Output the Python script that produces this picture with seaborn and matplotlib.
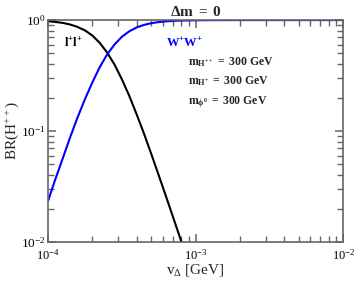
import matplotlib
matplotlib.use("Agg")
import matplotlib.pyplot as plt
from matplotlib.ticker import NullFormatter
import seaborn as sns
import pandas as pd

# values (v_Delta in GeV, branching ratios)
v_ll = [1.0e-4, 1.12e-4, 1.26e-4, 1.41e-4, 1.58e-4, 1.78e-4, 2.0e-4, 2.24e-4, 2.51e-4,
        2.82e-4, 3.16e-4, 3.55e-4, 3.98e-4, 4.47e-4, 5.01e-4, 5.62e-4, 6.31e-4, 7.08e-4,
        7.94e-4, 8.91e-4, 1.0e-3]
br_ll = [0.977, 0.963, 0.943, 0.913, 0.869, 0.807, 0.725, 0.624, 0.512,
         0.398, 0.294, 0.208, 0.142, 0.0948, 0.062, 0.040, 0.0256, 0.0163,
         0.0104, 0.0066, 0.00415]

v_ww = [1.0e-4, 1.12e-4, 1.26e-4, 1.41e-4, 1.58e-4, 1.78e-4, 2.0e-4, 2.24e-4, 2.51e-4,
        2.82e-4, 3.16e-4, 3.55e-4, 3.98e-4, 4.47e-4, 5.01e-4, 5.62e-4, 6.31e-4, 7.08e-4,
        7.94e-4, 8.91e-4, 1.0e-3, 1.26e-3, 1.58e-3, 2.0e-3, 3.16e-3, 5.0e-3, 1.0e-2]
br_ww = [0.0234, 0.0366, 0.0569, 0.0872, 0.131, 0.194, 0.275, 0.376, 0.488,
         0.602, 0.706, 0.792, 0.858, 0.905, 0.938, 0.960, 0.974, 0.984,
         0.990, 0.993, 0.996, 0.9983, 0.9993, 0.9997, 1.0, 1.0, 1.0]

x_major = [1e-4, 1e-3, 1e-2]
y_major = [1e-2, 1e-1, 1e0]

sns.set_style("ticks")
plt.rcParams["font.family"] = ["Liberation Serif", "DejaVu Serif"]
plt.rcParams["mathtext.fontset"] = "custom"
plt.rcParams["mathtext.rm"] = "Liberation Serif"
plt.rcParams["mathtext.it"] = "Liberation Serif:italic"
plt.rcParams["mathtext.bf"] = "Liberation Serif:bold"

ll = pd.DataFrame({"v": v_ll, "br": br_ll})
ww = pd.DataFrame({"v": v_ww, "br": br_ww})

fig = plt.figure(figsize=(3.54, 2.83), dpi=100)
ax = fig.add_axes([0.1356, 0.145, 0.834, 0.784])

sns.lineplot(data=ll, x="v", y="br", color="black", lw=1.5, ax=ax)
sns.lineplot(data=ww, x="v", y="br", color="#0000ff", lw=1.5, ax=ax)

ax.set_xscale("log")
ax.set_yscale("log")
ax.set_xlim(1e-4, 1e-2)
ax.set_ylim(1e-2, 1)

minor_x = [m * d for d in (1e-4, 1e-3) for m in range(2, 10)]
minor_y = [m * d for d in (1e-2, 1e-1) for m in range(2, 10)]
ax.set_xticks(x_major)
ax.set_yticks(y_major)
ax.set_xticks(minor_x, minor=True)
ax.set_yticks(minor_y, minor=True)
ax.xaxis.set_minor_formatter(NullFormatter())
ax.yaxis.set_minor_formatter(NullFormatter())

for s in ax.spines.values():
    s.set_color("#666666")
    s.set_linewidth(1.2)
    s.set_visible(True)

ax.tick_params(which="both", direction="in", top=True, right=True, colors="#666666",
               labelcolor="black", labelsize=9.5)
ax.tick_params(which="major", length=6, width=1.1)
ax.tick_params(which="minor", length=4, width=1.0)
ax.tick_params(axis="x", pad=4, labelsize=9)
ax.tick_params(axis="y", pad=2)

ax.set_xlabel(r"v$_\Delta$ [GeV]", fontsize=11, labelpad=0)
ax.set_ylabel(r"BR(H$^{++}$)", fontsize=11, labelpad=0)
ax.set_title(r"$\mathbf{\Delta m\ =\ 0}$", fontsize=11, pad=3)

ax.text(0.055, 0.895, r"$\mathbf{l^{+}l^{+}}$", transform=ax.transAxes, fontsize=9,
        color="black", va="center")
ax.text(0.40, 0.895, r"$\mathbf{W^{+}W^{+}}$", transform=ax.transAxes, fontsize=9,
        color="#0000ff", va="center")
ax.text(0.475, 0.81, r"$\mathbf{m_{H^{++}}\ =\ 300\ GeV}$", transform=ax.transAxes,
        fontsize=8.5, va="center")
ax.text(0.475, 0.725, r"$\mathbf{m_{H^{+}}\ =\ 300\ GeV}$", transform=ax.transAxes,
        fontsize=8.5, va="center")
ax.text(0.475, 0.63, r"$\mathbf{m_{\phi^{0}}\ =\ 300\ GeV}$", transform=ax.transAxes,
        fontsize=8.5, va="center")

fig.savefig("out.png", dpi=100)
